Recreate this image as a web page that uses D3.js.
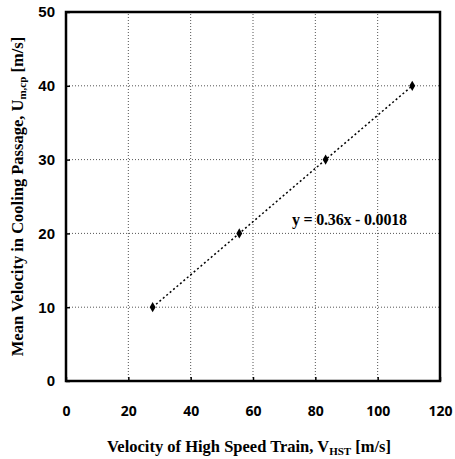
<!DOCTYPE html>
<html>
<head>
<meta charset="utf-8">
<script src="https://cdn.jsdelivr.net/npm/d3@7"></script>
<style>
  body { margin: 0; background: #fff; }
  svg { display: block; }
</style>
</head>
<body>
<svg id="chart"></svg>
<script>
// data
const trainSpeed = [27.8, 55.6, 83.3, 111.1];
const passageSpeed = [10, 20, 30, 40];
const xTicks = [0, 20, 40, 60, 80, 100, 120];
const yTicks = [0, 10, 20, 30, 40, 50];
const fitLabel = "y = 0.36x - 0.0018";

const config = {
	width: 455, height: 459,
	margin: { top: 12, right: 15, bottom: 78, left: 66 }
};

const svg = d3.select("#chart")
	.attr("width", config.width)
	.attr("height", config.height);

// scales
const fx = d3.scaleLinear().domain([0, 120])
	.range([config.margin.left, config.width - config.margin.right]);
const fy = d3.scaleLinear().domain([0, 50])
	.range([config.height - config.margin.bottom, config.margin.top]);

const x0 = fx(0), x1 = fx(120), y0 = fy(0), y1 = fy(50);

// grid
const grid = svg.append("g").attr("class", "grid");
grid.selectAll("line.gx").data(xTicks.slice(1, -1)).join("line")
	.attr("x1", d => fx(d)).attr("x2", d => fx(d))
	.attr("y1", y0).attr("y2", y1)
	.attr("stroke", "#555").attr("stroke-width", 1)
	.attr("stroke-dasharray", "1,2");
grid.selectAll("line.gy").data(yTicks.slice(1, -1)).join("line")
	.attr("x1", x0).attr("x2", x1)
	.attr("y1", d => fy(d)).attr("y2", d => fy(d))
	.attr("stroke", "#555").attr("stroke-width", 1)
	.attr("stroke-dasharray", "1,2");

// axes (labels only, frame drawn separately)
const xAxis = g => g.attr("transform", `translate(0, ${y0})`)
	.call(d3.axisBottom(fx).tickValues(xTicks).tickSize(-4).tickPadding(25))
	.call(g => g.select(".domain").remove())
	.call(g => g.selectAll("line").attr("stroke", "#000").attr("stroke-width", 1.5))
	.call(g => g.selectAll("text")
		.attr("font-family", "Open Sans, sans-serif")
		.attr("font-weight", "bold")
		.attr("font-size", "14px")
		.attr("fill", "#000"));

const yAxis = g => g.attr("transform", `translate(${x0}, 0)`)
	.call(d3.axisLeft(fy).tickValues(yTicks).tickSize(-4).tickPadding(11))
	.call(g => g.select(".domain").remove())
	.call(g => g.selectAll("line").attr("stroke", "#000").attr("stroke-width", 1.5))
	.call(g => g.selectAll("text")
		.attr("font-family", "Liberation Sans, Arial, sans-serif")
		.attr("font-weight", "bold")
		.attr("font-size", "15px")
		.attr("fill", "#000"));

svg.append("g").call(xAxis);
svg.append("g").call(yAxis);

// frame
svg.append("rect")
	.attr("x", x0).attr("y", y1)
	.attr("width", x1 - x0).attr("height", y0 - y1)
	.attr("fill", "none").attr("stroke", "#000").attr("stroke-width", 2.5);

// trend line
const pts = trainSpeed.map((v, i) => ({ x: v, y: passageSpeed[i] }));
const line = d3.line().x(d => fx(d.x)).y(d => fy(d.y));
svg.append("path")
	.datum(pts)
	.attr("fill", "none")
	.attr("stroke", "#000")
	.attr("stroke-width", 1.5)
	.attr("stroke-dasharray", "2,2.5")
	.attr("d", line);

// markers
svg.append("g").selectAll("path").data(pts).join("path")
	.attr("transform", d => `translate(${fx(d.x)}, ${fy(d.y)})`)
	.attr("d", d3.symbol(d3.symbolDiamond, 30))
	.attr("fill", "#000");

// equation
svg.append("text")
	.attr("x", fx(72.5)).attr("y", fy(21.2))
	.attr("font-family", "Liberation Serif, Times New Roman, serif")
	.attr("font-weight", "bold")
	.attr("font-size", "16px")
	.attr("letter-spacing", "-0.2px")
	.text(fitLabel);

// axis titles
const xt = svg.append("text")
	.attr("x", (x0 + x1) / 2 - 4).attr("y", 452)
	.attr("text-anchor", "middle")
	.attr("font-family", "Liberation Serif, Times New Roman, serif")
	.attr("font-weight", "bold")
	.attr("font-size", "16.5px");
xt.append("tspan").text("Velocity of High Speed Train, V");
xt.append("tspan").attr("font-size", "11px").attr("dy", 3).text("HST");
xt.append("tspan").attr("dy", -3).text(" [m/s]");

const yt = svg.append("text")
	.attr("transform", `translate(23, ${(y0 + y1) / 2}) rotate(-90)`)
	.attr("text-anchor", "middle")
	.attr("font-family", "Liberation Serif, Times New Roman, serif")
	.attr("font-weight", "bold")
	.attr("font-size", "16.5px");
yt.append("tspan").text("Mean Velocity  in Cooling Passage,  U");
yt.append("tspan").attr("font-size", "11px").attr("dy", 3).text("m,cp");
yt.append("tspan").attr("dy", -3).text("  [m/s]");
</script>
</body>
</html>
